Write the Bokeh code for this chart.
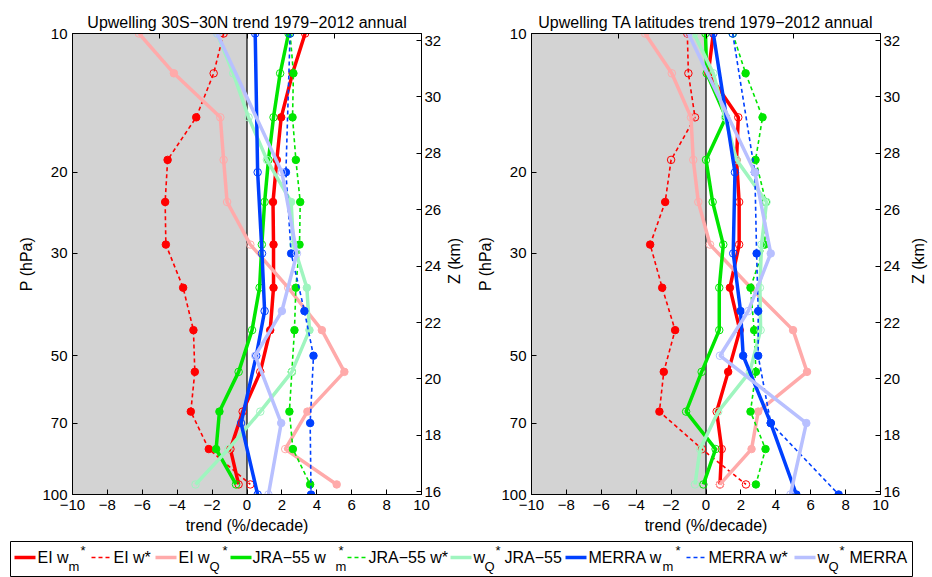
import math
from bokeh.plotting import figure
from bokeh.models import (Range1d, LinearAxis, LinearScale, FixedTicker,
                          CustomJSTickFormatter, BoxAnnotation, Span)
from bokeh.layouts import column, row
from bokeh.embed import file_html
from bokeh.resources import INLINE
from bokeh.core.properties import value

FONT = "Liberation Sans"

# ---------------- data ----------------
# pressure levels (hPa) of ERA-Interim / JRA-55 profiles and of MERRA profiles
P_LEV = [10, 12.2, 15.2, 18.8, 23.2, 28.7, 35.6, 44.0, 54.2, 66.1, 79.7, 95.1]
P_MERRA = [10, 20, 30, 40, 50, 70, 100]

TITLES = ["Upwelling 30S\u221230N trend 1979\u22122012 annual",
          "Upwelling TA latitudes trend 1979\u22122012 annual"]
X_TICKS = [-10, -8, -6, -4, -2, 0, 2, 4, 6, 8, 10]
X_TOP_TICKS = [-5, 0, 5]
P_TICKS = [10, 20, 30, 50, 70, 100]
Z_TICKS = [16, 18, 20, 22, 24, 26, 28, 30, 32]
Z_RANGE = (15.9, 32.25)

# ---- panel 1: 30S-30N (trend, %/decade) ----
ei_wm_1 = [3.33, 2.61, 1.96, 1.71, 1.49, 1.52, 1.52, 1.33, 0.76, -0.25, -0.95, -0.48]
ei_ws_1 = [-1.34, -1.91, -2.91, -4.55, -4.69, -4.65, -3.66, -3.07, -2.99, -3.22, -2.19, 0.19]
ei_wq_1 = [-6.19, -4.19, -1.53, -1.34, -1.14, 0.19, 2.36, 4.29, 5.58, 3.46, 2.19, 5.14]
jra_wm_1 = [2.38, 1.90, 1.52, 1.23, 1.01, 0.85, 0.72, 0.29, -0.48, -1.58, -1.77, -0.63]
jra_ws_1 = [2.47, 2.66, 2.61, 2.80, 3.05, 3.01, 2.80, 2.72, 2.57, 2.43, 2.63, 3.62]
jra_wq_1 = [-1.71, -0.79, 0.09, 1.14, 2.53, 2.66, 3.43, 3.58, 2.57, 0.76, -1.07, -2.95]
merra_wm_1 = [0.47, 0.61, 0.86, 1.01, 0.53, -0.34, 0.61]
merra_ws_1 = [2.47, 2.23, 2.53, 3.29, 3.81, 3.62, 3.67]
merra_wq_1 = [-1.71, 2.00, 2.86, 2.00, 0.47, 1.96, 1.23]
# significance (1 = filled marker)
ei_wm_sig_1 = [0, 1, 1, 1, 1, 1, 1, 1, 0, 0, 0, 0]
ei_ws_sig_1 = [0, 0, 1, 1, 1, 1, 1, 1, 1, 1, 1, 0]
ei_wq_sig_1 = [0, 1, 0, 0, 0, 0, 0, 1, 1, 1, 0, 1]
jra_wm_sig_1 = [0, 0, 0, 0, 0, 0, 0, 0, 0, 1, 1, 0]
jra_ws_sig_1 = [0, 1, 1, 1, 1, 1, 1, 1, 0, 1, 1, 1]
jra_wq_sig_1 = [0, 0, 0, 0, 1, 0, 1, 1, 0, 0, 0, 0]
merra_wm_sig_1 = [0, 0, 0, 0, 0, 0, 0]
merra_ws_sig_1 = [0, 1, 1, 1, 1, 1, 1]
merra_wq_sig_1 = [0, 0, 0, 1, 0, 1, 0]

# ---- panel 2: turnaround latitudes ----
ei_wm_2 = [0.42, 0.13, 1.85, 1.75, 1.90, 1.90, 1.37, 1.94, 1.27, 0.61, 0.90, 0.80]
ei_ws_2 = [-1.07, -1.01, -0.63, -2.00, -2.34, -3.20, -2.51, -1.77, -2.42, -2.67, -0.23, 2.29]
ei_wq_2 = [-3.49, -1.96, -0.86, -0.73, -0.44, 0.23, 2.57, 4.99, 5.79, 2.99, 2.61, 0.80]
jra_wm_2 = [-0.03, 0.04, 1.14, 0.00, 0.38, 0.99, 0.76, 0.76, -0.25, -1.14, 0.55, -0.15]
jra_ws_2 = [1.53, 2.27, 3.24, 2.84, 3.43, 3.37, 2.55, 2.76, 2.86, 2.55, 3.41, 2.86]
jra_wq_2 = [-0.69, 0.42, 1.09, 1.75, 3.47, 3.18, 3.09, 3.13, 2.51, 0.70, -0.34, -0.63]
merra_wm_2 = [0.42, 1.66, 1.56, 1.98, 2.13, 3.71, 5.18]
merra_ws_2 = [1.53, 2.80, 2.90, 2.99, 2.99, 3.71, 7.60]
merra_wq_2 = [-1.01, 2.80, 3.71, 2.42, 0.80, 5.75, 4.84]
ei_wm_sig_2 = [0, 0, 0, 0, 0, 0, 1, 0, 1, 0, 0, 0]
ei_ws_sig_2 = [0, 0, 0, 0, 1, 1, 1, 1, 1, 1, 0, 0]
ei_wq_sig_2 = [0, 0, 0, 0, 0, 0, 0, 1, 1, 1, 1, 0]
jra_wm_sig_2 = [0, 0, 0, 0, 0, 0, 0, 0, 0, 0, 0, 0]
jra_ws_sig_2 = [0, 1, 1, 1, 0, 1, 1, 1, 1, 1, 1, 1]
jra_wq_sig_2 = [0, 0, 0, 0, 0, 0, 0, 0, 0, 0, 0, 0]
merra_wm_sig_2 = [0, 0, 0, 1, 1, 1, 1]
merra_ws_sig_2 = [0, 0, 1, 1, 1, 1, 1]
merra_wq_sig_2 = [0, 1, 1, 0, 0, 1, 0]

# ---------------- styles ----------------
RED = "#FF0000"
PINK = "#FFAAAA"
GREEN = "#00E600"
PALEGREEN = "#9FF5BF"
BLUE = "#0040FF"
LAVENDER = "#B8C0FF"
GRAY = "#D3D3D3"

THICK = 3.5
THIN = 1.6
DASH = "4 3"
PANEL_H = 536


def draw(p, xs, ps, sig, color, width, dash):
    p.line(xs, ps, line_color=color, line_width=width, line_dash=dash)
    fx = [x for x, s in zip(xs, sig) if s]
    fp = [y for y, s in zip(ps, sig) if s]
    ox = [x for x, s in zip(xs, sig) if not s]
    op = [y for y, s in zip(ps, sig) if not s]
    p.scatter(fx, fp, size=7.5, fill_color=color, line_color=color, line_width=1)
    p.scatter(ox, op, size=7.5, fill_color=None, line_color=color, line_width=1)


def panel(title, series, width, left_b, right_b):
    p = figure(width=width, height=PANEL_H, x_range=Range1d(-10, 10),
               y_range=Range1d(100, 10), y_axis_type="log",
               output_backend="svg", toolbar_location=None,
               min_border_left=left_b, min_border_right=right_b,
               min_border_top=33, min_border_bottom=40,
               background_fill_color="white", border_fill_color="white")
    p.grid.visible = False
    p.outline_line_color = "black"
    p.outline_line_width = 1

    p.title.text = title
    p.title.align = "center"
    p.title.text_font = FONT
    p.title.text_font_size = "16px"
    p.title.text_font_style = "normal"
    p.title.text_color = "black"
    p.title.standoff = 6

    shade = BoxAnnotation(right=0, fill_color=GRAY, fill_alpha=1.0,
                          line_color=None, level="underlay")
    p.add_layout(shade)
    zero = Span(location=0, dimension="height", line_color="black",
                line_width=1.2, level="underlay")
    p.add_layout(zero)

    for xs, ps, sig, color, w, dash in series:
        draw(p, xs, ps, sig, color, w, dash)

    xa = p.xaxis[0]
    xa.ticker = FixedTicker(ticks=X_TICKS)
    xa.formatter = CustomJSTickFormatter(
        code="return tick < 0 ? '\\u2212' + Math.abs(tick) : String(tick);")
    xa.axis_label = "trend (%/decade)"

    ya = p.yaxis[0]
    ya.ticker = FixedTicker(ticks=P_TICKS)
    ya.formatter = CustomJSTickFormatter(code="return String(Math.round(tick));")
    ya.axis_label = "P (hPa)"

    top = LinearAxis(ticker=FixedTicker(ticks=X_TOP_TICKS),
                     major_label_text_font_size="1px",
                     major_label_text_color=None,
                     major_label_standoff=0)
    p.add_layout(top, "above")

    p.extra_y_ranges = {"z": Range1d(*Z_RANGE)}
    p.extra_y_scales = {"z": LinearScale()}
    za = LinearAxis(y_range_name="z", ticker=FixedTicker(ticks=Z_TICKS))
    p.add_layout(za, "right")

    for ax in (xa, ya, top, za):
        ax.major_tick_in = 5
        ax.major_tick_out = 0
        ax.minor_tick_in = 0
        ax.minor_tick_out = 0
        ax.axis_line_color = "black"
        ax.major_tick_line_color = "black"
        ax.major_label_text_font = FONT
        ax.axis_label_text_font = FONT
        ax.axis_label_text_font_size = "16px"
        ax.axis_label_text_font_style = "normal"
        ax.axis_label_text_color = "black"
        ax.axis_label_standoff = 4
    for ax in (xa, ya, za):
        ax.major_label_text_font_size = "15px"
        ax.major_label_text_color = "black"
        ax.major_label_standoff = 5
    za.major_label_standoff = 3
    return p


def zlabel_strip(width, x_center):
    """Narrow strip carrying the right-hand axis title 'Z (km)' (reads bottom-to-top)."""
    z = figure(width=width, height=PANEL_H, x_range=Range1d(0, width),
               y_range=Range1d(0, PANEL_H), output_backend="svg",
               toolbar_location=None, min_border=0,
               x_axis_location=None, y_axis_location=None,
               background_fill_color="white", border_fill_color="white")
    z.grid.visible = False
    z.outline_line_color = None
    # frame centre: 33 px top border, 463 px frame
    z.text(x=[x_center], y=[PANEL_H - (33 + 463 / 2)], text=["Z (km)"], angle=math.pi / 2,
           text_align="center", text_baseline="middle", text_font=value(FONT),
           text_font_size="16px", text_color="black")
    return z


p1 = panel(TITLES[0], [
    (ei_wm_1, P_LEV, ei_wm_sig_1, RED, THICK, "solid"),
    (ei_ws_1, P_LEV, ei_ws_sig_1, RED, THIN, DASH),
    (ei_wq_1, P_LEV, ei_wq_sig_1, PINK, THICK, "solid"),
    (jra_wm_1, P_LEV, jra_wm_sig_1, GREEN, THICK, "solid"),
    (jra_ws_1, P_LEV, jra_ws_sig_1, GREEN, THIN, DASH),
    (jra_wq_1, P_LEV, jra_wq_sig_1, PALEGREEN, THICK, "solid"),
    (merra_wm_1, P_MERRA, merra_wm_sig_1, BLUE, THICK, "solid"),
    (merra_ws_1, P_MERRA, merra_ws_sig_1, BLUE, THIN, DASH),
    (merra_wq_1, P_MERRA, merra_wq_sig_1, LAVENDER, THICK, "solid"),
], 444, 72, 22)
z1 = zlabel_strip(28, 10)

p2 = panel(TITLES[1], [
    (ei_wm_2, P_LEV, ei_wm_sig_2, RED, THICK, "solid"),
    (ei_ws_2, P_LEV, ei_ws_sig_2, RED, THIN, DASH),
    (ei_wq_2, P_LEV, ei_wq_sig_2, PINK, THICK, "solid"),
    (jra_wm_2, P_LEV, jra_wm_sig_2, GREEN, THICK, "solid"),
    (jra_ws_2, P_LEV, jra_ws_sig_2, GREEN, THIN, DASH),
    (jra_wq_2, P_LEV, jra_wq_sig_2, PALEGREEN, THICK, "solid"),
    (merra_wm_2, P_MERRA, merra_wm_sig_2, BLUE, THICK, "solid"),
    (merra_ws_2, P_MERRA, merra_ws_sig_2, BLUE, THIN, DASH),
    (merra_wq_2, P_MERRA, merra_wq_sig_2, LAVENDER, THICK, "solid"),
], 431, 59, 22)
z2 = zlabel_strip(29, 15)

# ---------------- legend (drawn in its own strip) ----------------
leg = figure(width=932, height=41, x_range=Range1d(0, 932),
             y_range=Range1d(577, 536), output_backend="svg",
             toolbar_location=None, min_border=0,
             x_axis_location=None, y_axis_location=None)
leg.grid.visible = False
leg.outline_line_color = None
leg.quad(left=[10], right=[912], top=[541], bottom=[576],
         fill_color="white", line_color="black", line_width=1)

# (line x0, color, width, dash, pieces) ; pieces: (x, text, kind)
LEGEND = [
    (14, RED, THICK, "solid", [(37, "EI w", "n"), (68, "m", "sub"), (80, "*", "sup")]),
    (91, RED, THIN, DASH, [(113, "EI w*", "n")]),
    (155, PINK, THICK, "solid", [(178, "EI w", "n"), (209, "Q", "sub"), (222, "*", "sup")]),
    (230, GREEN, THICK, "solid", [(252, "JRA\u221255 w", "n"), (335, "m", "sub"), (338, "*", "sup")]),
    (347, GREEN, THIN, DASH, [(368, "JRA\u221255 w*", "n")]),
    (450, PALEGREEN, THICK, "solid", [(473, "w", "n"), (484, "Q", "sub"), (495, "*", "sup"), (504, "JRA\u221255", "n")]),
    (565, BLUE, THICK, "solid", [(588, "MERRA w", "n"), (662, "m", "sub"), (675, "*", "sup")]),
    (686, BLUE, THIN, DASH, [(708, "MERRA w*", "n")]),
    (794, LAVENDER, THICK, "solid", [(817, "w", "n"), (828, "Q", "sub"), (839, "*", "sup"), (849, "MERRA", "n")]),
]
Y_MID = 557
for x0, color, w, dash, pieces in LEGEND:
    leg.line([x0, x0 + 21], [Y_MID, Y_MID], line_color=color, line_width=w, line_dash=dash)
    for x, t, kind in pieces:
        if kind == "n":
            y, fs = Y_MID, "16px"
        elif kind == "sub":
            y, fs = Y_MID + 9, "13px"
        else:
            y, fs = Y_MID - 7, "13px"
        leg.text(x=[x], y=[y], text=[t], text_font=value(FONT), text_font_size=fs,
                 text_baseline="middle", text_align="left", text_color="black")

layout = column(row(p1, z1, p2, z2), leg)
open("out.html", "w").write(file_html(layout, INLINE))
